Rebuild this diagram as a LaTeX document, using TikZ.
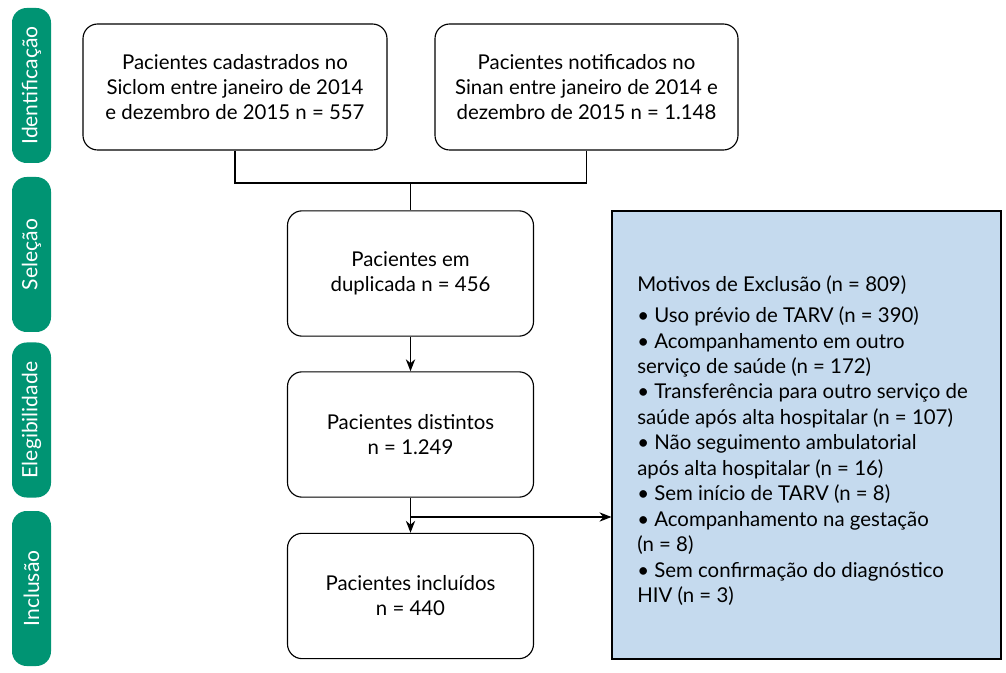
\documentclass[tikz,border=0pt]{standalone}
\usepackage{fontspec}
\setmainfont{Lato}
\usetikzlibrary{arrows.meta}
\definecolor{pillgreen}{HTML}{009473}
\definecolor{exblue}{HTML}{C5DAEE}
\begin{document}
\begin{tikzpicture}[x=0.75pt,y=-0.75pt,
  box/.style={draw=black,line width=0.85pt,rounded corners=11pt,fill=white,align=center,
    font=\fontsize{15.3pt}{18.75pt}\selectfont,inner sep=0pt},
  pill/.style={fill=pillgreen,rounded corners=11pt,rotate=90,text=white,
    minimum width=116.25pt,minimum height=29.25pt,inner sep=0pt,
    font=\fontsize{15.8pt}{18pt}\selectfont},
  conn/.style={line width=0.85pt},
  arr/.style={line width=0.85pt,-{Stealth[length=9pt,width=7pt]}}]
\useasboundingbox (0,0) rectangle (1006,673);
% stage pills
\node[pill] (p1) at (31.5,85.5) {Identificação};
\node[pill] (p2) at (31.5,254.5) {Seleção};
\node[pill] (p3) at (31.5,420) {Elegibilidade};
\node[pill] (p4) at (31.5,588.5) {Inclusão};
% boxes
\node[box,minimum width=228pt,minimum height=94.5pt] (b1) at (235,87)
  {Pacientes cadastrados no\\Siclom entre janeiro de 2014\\e dezembro de 2015 n = 557};
\node[box,minimum width=227.25pt,minimum height=94.5pt] (b2) at (586.5,87)
  {Pacientes notificados no\\Sinan entre janeiro de 2014 e\\dezembro de 2015 n = 1.148};
\node[box,minimum width=184.5pt,minimum height=94pt] (b3) at (410.5,273.5)
  {Pacientes em\\duplicada n = 456};
\node[box,minimum width=184.5pt,minimum height=94pt] (b4) at (410.5,434.5)
  {Pacientes distintos\\n = 1.249};
\node[box,minimum width=184.5pt,minimum height=94pt] (b5) at (410.5,596)
  {Pacientes incluídos\\n = 440};
% exclusion box
\node[draw=black,line width=0.85pt,fill=exblue,minimum width=291.75pt,minimum height=336pt,
  inner sep=0pt] (ex) at (806.5,435) {};
\node[anchor=north west,align=left,inner sep=0pt,
  font=\fontsize{15.3pt}{19.1pt}\selectfont] (extxt) at (637,275)
  {Motivos de Exclusão (n = 809)\\[4.5pt]
   • Uso prévio de TARV (n = 390)\\
   • Acompanhamento em outro\\
   serviço de saúde (n = 172)\\
   • Transferência para outro serviço de\\
   saúde após alta hospitalar (n = 107)\\
   • Não seguimento ambulatorial\\
   após alta hospitalar (n = 16)\\
   • Sem início de TARV (n = 8)\\
   • Acompanhamento na gestação\\
   (n = 8)\\
   • Sem confirmação do diagnóstico\\
   HIV (n = 3)};
% connectors
\coordinate (j) at (410.5,183);
\draw[conn] (b1.south) |- (j);
\draw[conn] (b2.south) |- (j);
\draw[conn] (j) -- (b3.north);
\draw[arr] (b3.south) -- (b4.north);
\draw[arr] (b4.south) -- (b5.north);
\coordinate (br) at (410.5,517);
\draw[arr] (br) -- (ex.west |- br);
\end{tikzpicture}
\end{document}
